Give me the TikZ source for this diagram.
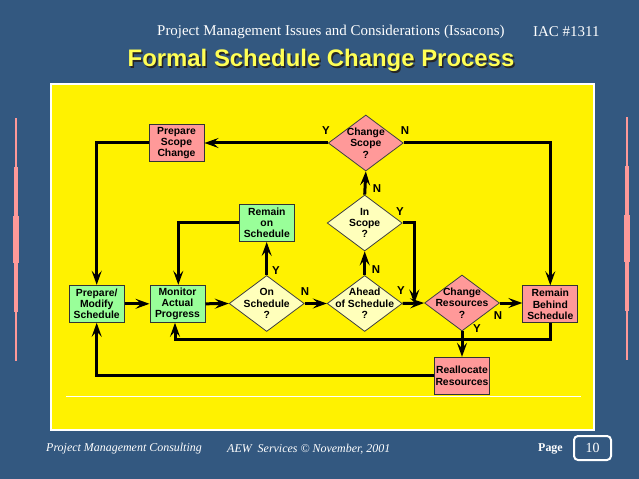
\documentclass[tikz,border=0pt]{standalone}
\usepackage{fontspec}
\setmainfont{Liberation Serif}
\setsansfont{Liberation Sans}
\usetikzlibrary{shapes.geometric,arrows.meta}
\definecolor{bgblue}{HTML}{335880}
\definecolor{pinkbox}{HTML}{FF9999}
\definecolor{greenbox}{HTML}{99FF99}
\definecolor{paleyel}{HTML}{FFFFBB}
\definecolor{titleyel}{HTML}{FFFF55}
\definecolor{barpink}{HTML}{FF9999}
\tikzset{
 box/.style={rectangle, draw=black!80, line width=1bp, minimum width=55bp, minimum height=37bp, inner sep=0pt, align=center, font=\sffamily\bfseries\fontsize{10.4}{11.3}\selectfont},
 gbox/.style={box, fill=greenbox},
 pbox/.style={box, fill=pinkbox},
 dia/.style={diamond, draw=black!75, line width=0.8bp, minimum width=75bp, minimum height=56bp, inner sep=0pt},
 pdia/.style={dia, fill=pinkbox},
 ydia/.style={dia, fill=paleyel},
 dtext/.style={inner sep=0pt, align=center, font=\sffamily\bfseries\fontsize{10.4}{11.3}\selectfont},
 arr/.style={line width=3bp, -{Stealth[length=14bp,width=10bp,inset=5.5bp]}},
 yn/.style={inner sep=0pt, font=\sffamily\bfseries\fontsize{11.5}{12}\selectfont},
 hdr/.style={inner sep=0pt, anchor=west, text=white},
}
\begin{document}
\begin{tikzpicture}[x=1bp,y=-1bp]
\fill[bgblue] (0,0) rectangle (639,479);
\useasboundingbox (0,0) rectangle (639,479);
% side bars
\fill[barpink] (15,118) rectangle (17,361);
\fill[barpink] (14,167) rectangle (18,312);
\fill[barpink] (13,216) rectangle (19,263);
\fill[barpink] (626,117) rectangle (628,360);
\fill[barpink] (625,166) rectangle (629,311);
\fill[barpink] (624,215) rectangle (630,262);
% panel
\fill[white] (50,83) rectangle (595,431);
\fill[yellow] (52,85) rectangle (593,429);
\draw[white, line width=1bp] (66,396) -- (581,396);
% header
\node[hdr, font=\fontsize{15}{18}\selectfont] (hdrtxt) at (157,32) {Project Management Issues and Considerations (Issacons)};
\node[hdr, font=\fontsize{15}{18}\selectfont] (iac) at (533,32) {IAC \#1311};
\node[inner sep=0pt, text=black!85, font=\sffamily\bfseries\fontsize{24}{28}\selectfont] (tshadow) at (322.5,62) {Formal Schedule Change Process};
\node[inner sep=0pt, text=titleyel, font=\sffamily\bfseries\fontsize{24}{28}\selectfont] (title) at (321,60.5) {Formal Schedule Change Process};
% footer
\node[hdr, font=\itshape\fontsize{12}{14}\selectfont] (f1) at (46,449) {Project Management Consulting};
\node[hdr, font=\itshape\fontsize{12}{14}\selectfont] (f2) at (227,449) {AEW~~Services ©~November, 2001};
\node[hdr, font=\bfseries\fontsize{12}{14}\selectfont] (pg) at (538,449) {Page};
\node[draw=white, line width=2bp, rounded corners=4bp, minimum width=37bp, minimum height=24bp, inner sep=0pt, text=white, font=\fontsize{14}{16}\selectfont] (pnum) at (592.5,448) {10};
% boxes
\node[pbox] (psc) at (176.5,143) {Prepare\\Scope\\Change};
\node[gbox] (ros) at (266.8,223) {Remain\\on\\Schedule};
\node[gbox] (pms) at (96.7,303.8) {Prepare/\\Modify\\Schedule};
\node[gbox] (map) at (177.5,303.8) {Monitor\\Actual\\Progress};
\node[pbox] (rbs) at (550.3,304.3) {Remain\\Behind\\Schedule};
\node[pbox] (rr) at (462,375.8) {Reallocate\\Resources};
% diamonds
\node[ydia] (os) at (266.7,303.5) {};
\node[dtext] (ost) at (os) {On\\Schedule\\?};
\node[ydia] (aos) at (364.7,303.5) {};
\node[dtext] (aost) at (aos) {Ahead\\of Schedule\\?};
\node[ydia] (is) at (364.7,223) {};
\node[dtext] (ist) at (is) {In\\Scope\\?};
\node[pdia] (cs) at (365.8,143) {};
\node[dtext] (cst) at (cs) {Change\\Scope\\?};
\node[pdia] (cr) at (462,303) {};
\node[dtext] (crt) at (cr) {Change\\Resources\\?};
% helper coordinates
\coordinate (j) at (414.3,303.5);
\coordinate (lowA) at (175,339);
% connectors
\draw[arr] (pms.east |- map) -- (map.west);
\draw[arr] (map.east) -- (os.west);
\draw[arr] (os.east) -- (aos.west);
\draw[arr] (os.north) -- (os.north |- ros.south);
\draw[arr] (ros.west) -| ([xshift=0.8bp]map.north);
\draw[arr] (aos.east) -- (cr.west);
\draw[arr] (aos.north) -- (is.south);
\draw[arr] (is.east) -| (j);
\draw[arr] (is.north) -- (cs.south);
\draw[arr] (cs.west) -- (psc.east);
\draw[arr] (cs.east) -| (rbs.north);
\draw[arr] (psc.west) -| (pms.north);
\draw[arr] (cr.east) -- (cr.east -| rbs.west);
\draw[arr] (cr.south) -- (rr.north);
\draw[arr] (rbs.south) |- (lowA) -- (lowA |- map.south);
\draw[arr] (rr.west) -| (pms.south);
% labels
\node[yn] (l1) at (326,131) {Y};
\node[yn] (l2) at (405,131) {N};
\node[yn] (l3) at (377,189) {N};
\node[yn] (l4) at (400,212) {Y};
\node[yn] (l5) at (376,270) {N};
\node[yn] (l6) at (401,291) {Y};
\node[yn] (l7) at (498,316) {N};
\node[yn] (l8) at (477,329) {Y};
\node[yn] (l9) at (276,271) {Y};
\node[yn] (l10) at (305,292) {N};
\end{tikzpicture}
\end{document}
